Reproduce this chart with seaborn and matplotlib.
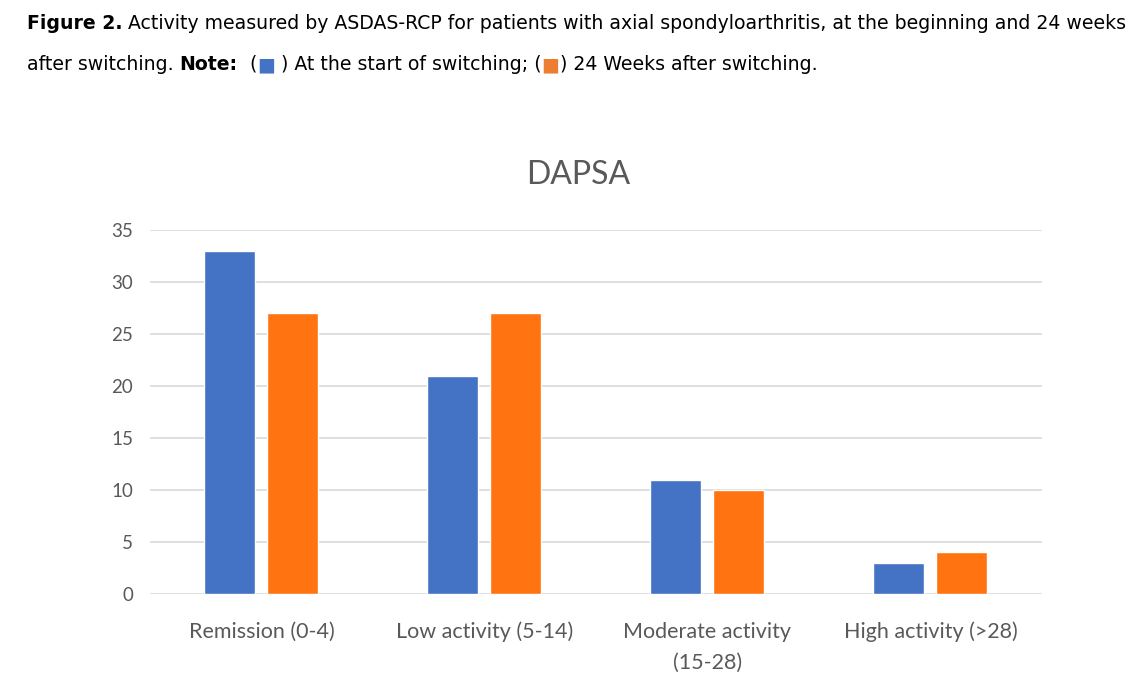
import matplotlib

matplotlib.use("Agg")
import matplotlib.pyplot as plt
import pandas as pd
import seaborn as sns

categories = [
    "Remission (0-4)",
    "Low activity (5-14)",
    "Moderate activity\n(15-28)",
    "High activity (>28)",
]
start_values = [33, 21, 11, 3]
week24_values = [27, 27, 10, 4]
series_names = ["At the start of switching", "24 Weeks after switching"]
y_ticks = [0, 5, 10, 15, 20, 25, 30, 35]

blue = "#4472C4"
orange = "#FF7410"
gray_text = "#595959"

df = pd.DataFrame(
    {
        "category": categories * 2,
        "series": [series_names[0]] * 4 + [series_names[1]] * 4,
        "value": start_values + week24_values,
    }
)

sns.set_theme(style="white")
plt.rcParams["font.family"] = ["Lato", "DejaVu Sans"]

fig = plt.figure(figsize=(11.42, 6.86), dpi=100)
ax = fig.add_axes([0.1313, 0.1341, 0.7811, 0.5306])

sns.barplot(
    data=df,
    x="category",
    y="value",
    hue="series",
    palette=[blue, orange],
    width=0.565,
    gap=0.19,
    saturation=1,
    legend=False,
    ax=ax,
)

ax.set_ylim(0, 35)
ax.set_xlim(-0.5, 3.5)
ax.set_yticks(y_ticks)
ax.yaxis.grid(True, color="#D9D9D9", linewidth=1.2)
ax.set_axisbelow(True)
for side in ["top", "right", "left", "bottom"]:
    ax.spines[side].set_visible(False)
ax.tick_params(axis="y", length=0, labelsize=13.5, colors=gray_text, pad=12)
ax.tick_params(axis="x", length=0, labelsize=15.5, colors=gray_text, pad=20)
for lbl in ax.get_xticklabels():
    lbl.set_linespacing(1.7)
ax.set_xlabel("")
ax.set_ylabel("")
ax.text(0.48, 1.151, "DAPSA", transform=ax.transAxes, ha="center",
        va="center", fontsize=23, color=gray_text)

# caption above the chart: pieces laid side by side on a shared baseline
cap_font = ["DejaVu Sans"]
cap_size = 13.6

line1 = [
    ("Figure 2.", "black", "bold"),
    (" Activity measured by ASDAS-RCP for patients with axial "
     "spondyloarthritis, at the beginning and 24 weeks", "black", "normal"),
]
line2 = [
    ("after switching. ", "black", "normal"),
    ("Note:", "black", "bold"),
    ("  (", "black", "normal"),
    ("\u25A0", blue, "normal"),
    (" ) At the start of switching; (", "black", "normal"),
    ("\u25A0", "#ED7D31", "normal"),
    (") 24 Weeks after switching.", "black", "normal"),
]

fig.canvas.draw()
renderer = fig.canvas.get_renderer()
W = fig.bbox.width


def caption_line(pieces, x_px, y):
    x = x_px
    for text, color, weight in pieces:
        t = fig.text(x / W, y, text, color=color, fontweight=weight,
                     fontsize=cap_size, family=cap_font, va="baseline")
        x = t.get_window_extent(renderer).x1


caption_line(line1, 27, 1 - 29 / 686)
caption_line(line2, 27, 1 - 70 / 686)

fig.savefig("out.png", dpi=100, facecolor="white")
